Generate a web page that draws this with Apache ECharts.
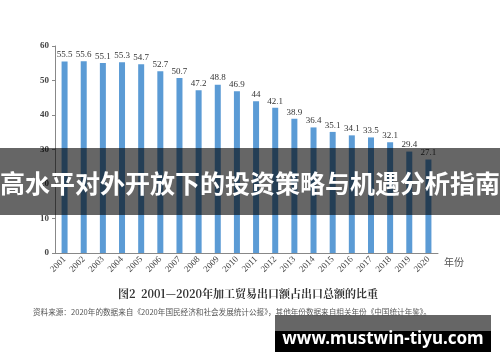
<!DOCTYPE html>
<html><head><meta charset="utf-8">
<script src="https://cdn.jsdelivr.net/npm/echarts@6/dist/echarts.min.js"></script>
<style>html,body{margin:0;padding:0;background:#fff}#c{width:500px;height:362px}</style>
</head><body><div id="c"></div>
<script>
const years = ['2001','2002','2003','2004','2005','2006','2007','2008','2009','2010','2011','2012','2013','2014','2015','2016','2017','2018','2019','2020'];
const shares = [55.5,55.6,55.1,55.3,54.7,52.7,50.7,47.2,48.8,46.9,44,42.1,38.9,36.4,35.1,34.1,33.5,32.1,29.4,27.1];
const yTicks = [0,10,20,30,40,50,60];
const overlayTitle = '高水平对外开放下的投资策略与机遇分析指南';
const caption = '图2  2001—2020年加工贸易出口额占出口总额的比重';
const source = '资料来源：2020年的数据来自《2020年国民经济和社会发展统计公报》，其他年份数据来自相关年份《中国统计年鉴》。';
const watermark = 'www.mustwin-tiyu.com';

const serif = '"Liberation Serif","DejaVu Serif",serif';
const chart = echarts.init(document.getElementById('c'), null, {renderer:'canvas'});
chart.setOption({
  animation:false,
  grid:{left:55,right:62,top:46,bottom:109,containLabel:false},
  xAxis:{type:'category',data:years,name:'年份',nameLocation:'end',nameGap:6,
    nameTextStyle:{color:'#555',fontSize:10,fontFamily:'"Noto Sans CJK SC",serif',verticalAlign:'top',padding:[4,0,0,0]},
    axisLine:{lineStyle:{color:'#888',width:1}},axisTick:{show:false},
    axisLabel:{rotate:45,color:'#444',fontSize:9,fontFamily:serif,margin:5,interval:0}},
  yAxis:{type:'value',min:yTicks[0],max:yTicks[yTicks.length-1],interval:10,
    axisLine:{show:true,lineStyle:{color:'#888',width:1}},
    axisTick:{show:true,length:3,lineStyle:{color:'#888'}},
    splitLine:{show:false},
    axisLabel:{color:'#444',fontSize:9,fontFamily:serif,fontWeight:'bold',margin:6}},
  series:[{type:'bar',data:shares,barWidth:6,itemStyle:{color:'#5b9bd5'},
    label:{show:true,position:'top',distance:2,color:'#333',fontSize:9,fontFamily:serif}}],
  graphic:[
    {type:'rect',shape:{x:0,y:148,width:500,height:67},style:{fill:'rgba(0,0,0,0.6)'},z:100},
    {type:'text',x:250,y:183,style:{text:overlayTitle,fill:'#fff',font:'bold 25px "Noto Sans CJK SC"',align:'center',verticalAlign:'middle'},z:101},
    {type:'text',x:248,y:294,style:{text:caption,fill:'#333',font:'bold 11px "Noto Serif CJK SC","Noto Sans CJK SC",serif',align:'center',verticalAlign:'middle'},z:101},
    {type:'text',x:33,y:312,style:{text:source,fill:'#555',font:'7.6px "Noto Sans CJK SC",serif',align:'left',verticalAlign:'middle'},z:101},
    {type:'rect',shape:{x:275,y:315,width:216,height:16},style:{fill:'#666'},z:100},
    {type:'rect',shape:{x:275,y:331,width:216,height:21},style:{fill:'#000'},z:100},
    {type:'text',x:383,y:339,style:{text:watermark,fill:'#fff',font:'bold 17px "Noto Sans",sans-serif',align:'center',verticalAlign:'middle'},z:101}
  ]
});
</script></body></html>
